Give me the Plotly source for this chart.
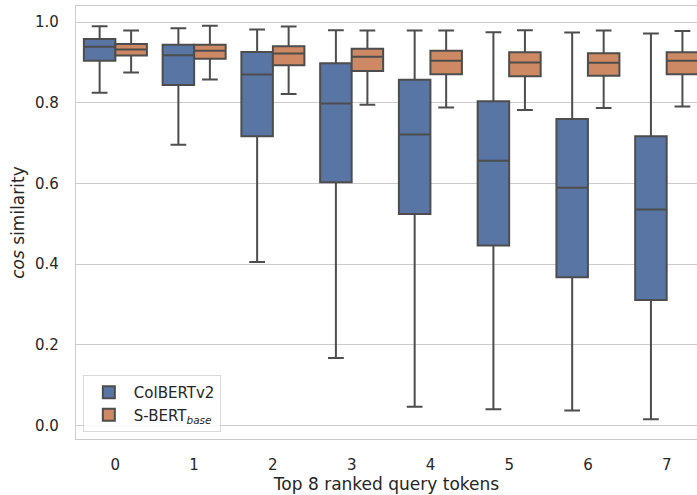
import plotly.graph_objects as go

positions = [0, 1, 2, 3, 4, 5, 6, 7]
tick_labels = ["0", "1", "2", "3", "4", "5", "6", "7"]

# ColBERTv2 box statistics
colbert_upper = [0.990, 0.985, 0.982, 0.980, 0.979, 0.975, 0.974, 0.972]
colbert_q3 = [0.958, 0.944, 0.926, 0.898, 0.857, 0.804, 0.760, 0.717]
colbert_median = [0.939, 0.918, 0.870, 0.798, 0.721, 0.656, 0.589, 0.535]
colbert_q1 = [0.904, 0.844, 0.717, 0.603, 0.524, 0.446, 0.367, 0.311]
colbert_lower = [0.825, 0.696, 0.405, 0.167, 0.046, 0.040, 0.037, 0.015]

# S-BERT base box statistics
sbert_upper = [0.979, 0.991, 0.989, 0.979, 0.979, 0.980, 0.979, 0.978]
sbert_q3 = [0.946, 0.944, 0.940, 0.934, 0.929, 0.925, 0.923, 0.925]
sbert_median = [0.932, 0.929, 0.922, 0.914, 0.904, 0.900, 0.899, 0.904]
sbert_q1 = [0.917, 0.909, 0.893, 0.879, 0.871, 0.866, 0.867, 0.871]
sbert_lower = [0.875, 0.858, 0.822, 0.795, 0.788, 0.782, 0.787, 0.791]

y_ticks = [0.0, 0.2, 0.4, 0.6, 0.8, 1.0]
y_tick_labels = ["0.0", "0.2", "0.4", "0.6", "0.8", "1.0"]

edge = "#4d4d4d"
font_family = "DejaVu Sans"

fig = go.Figure()
fig.add_trace(go.Box(
    name="ColBERTv2",
    x=positions,
    q1=colbert_q1, median=colbert_median, q3=colbert_q3,
    lowerfence=colbert_lower, upperfence=colbert_upper,
    fillcolor="#5875a4",
    line=dict(color=edge, width=2),
    whiskerwidth=0.5,
    boxpoints=False,
    offsetgroup="a",
))
fig.add_trace(go.Box(
    name="S-BERT<sub><i>base</i></sub>",
    x=positions,
    q1=sbert_q1, median=sbert_median, q3=sbert_q3,
    lowerfence=sbert_lower, upperfence=sbert_upper,
    fillcolor="#cc8963",
    line=dict(color=edge, width=2),
    whiskerwidth=0.5,
    boxpoints=False,
    offsetgroup="b",
))

fig.update_layout(
    width=697, height=495,
    margin=dict(l=76, r=0, t=6, b=56, autoexpand=False),
    paper_bgcolor="white", plot_bgcolor="white",
    boxmode="group", boxgap=0.2, boxgroupgap=0.0,
    font=dict(family=font_family, size=15, color="#262626"),
    showlegend=True,
    legend=dict(
        x=0.011, y=0.016, xanchor="left", yanchor="bottom",
        bgcolor="rgba(255,255,255,0.8)", bordercolor="#d9d9d9", borderwidth=1,
        font=dict(size=15, color="#262626"),
        tracegroupgap=2, itemwidth=40,
    ),
)
fig.update_xaxes(
    range=[-0.5, 7.385],
    tickmode="array", tickvals=positions, ticktext=tick_labels,
    showgrid=False, zeroline=False,
    showline=True, linecolor="#cccccc", linewidth=1.3, mirror=True,
    ticks="", ticklabelstandoff=12,
    title=dict(text="Top 8 ranked query tokens", font=dict(size=17), standoff=4),
    tickfont=dict(size=15),
    automargin=False,
)
fig.update_yaxes(
    range=[-0.034, 1.040],
    tickmode="array", tickvals=y_ticks, ticktext=y_tick_labels,
    showgrid=True, gridcolor="#cccccc", gridwidth=1.2,
    zeroline=False,
    showline=True, linecolor="#cccccc", linewidth=1.3, mirror=False,
    ticks="", ticklabelstandoff=13,
    title=dict(text="<i>cos</i> similarity", font=dict(size=17), standoff=6),
    tickfont=dict(size=15),
    automargin=False,
)

fig.write_html(
    "out.html",
    config={"displayModeBar": False},
    post_script="document.body.style.margin='0px';",
)
